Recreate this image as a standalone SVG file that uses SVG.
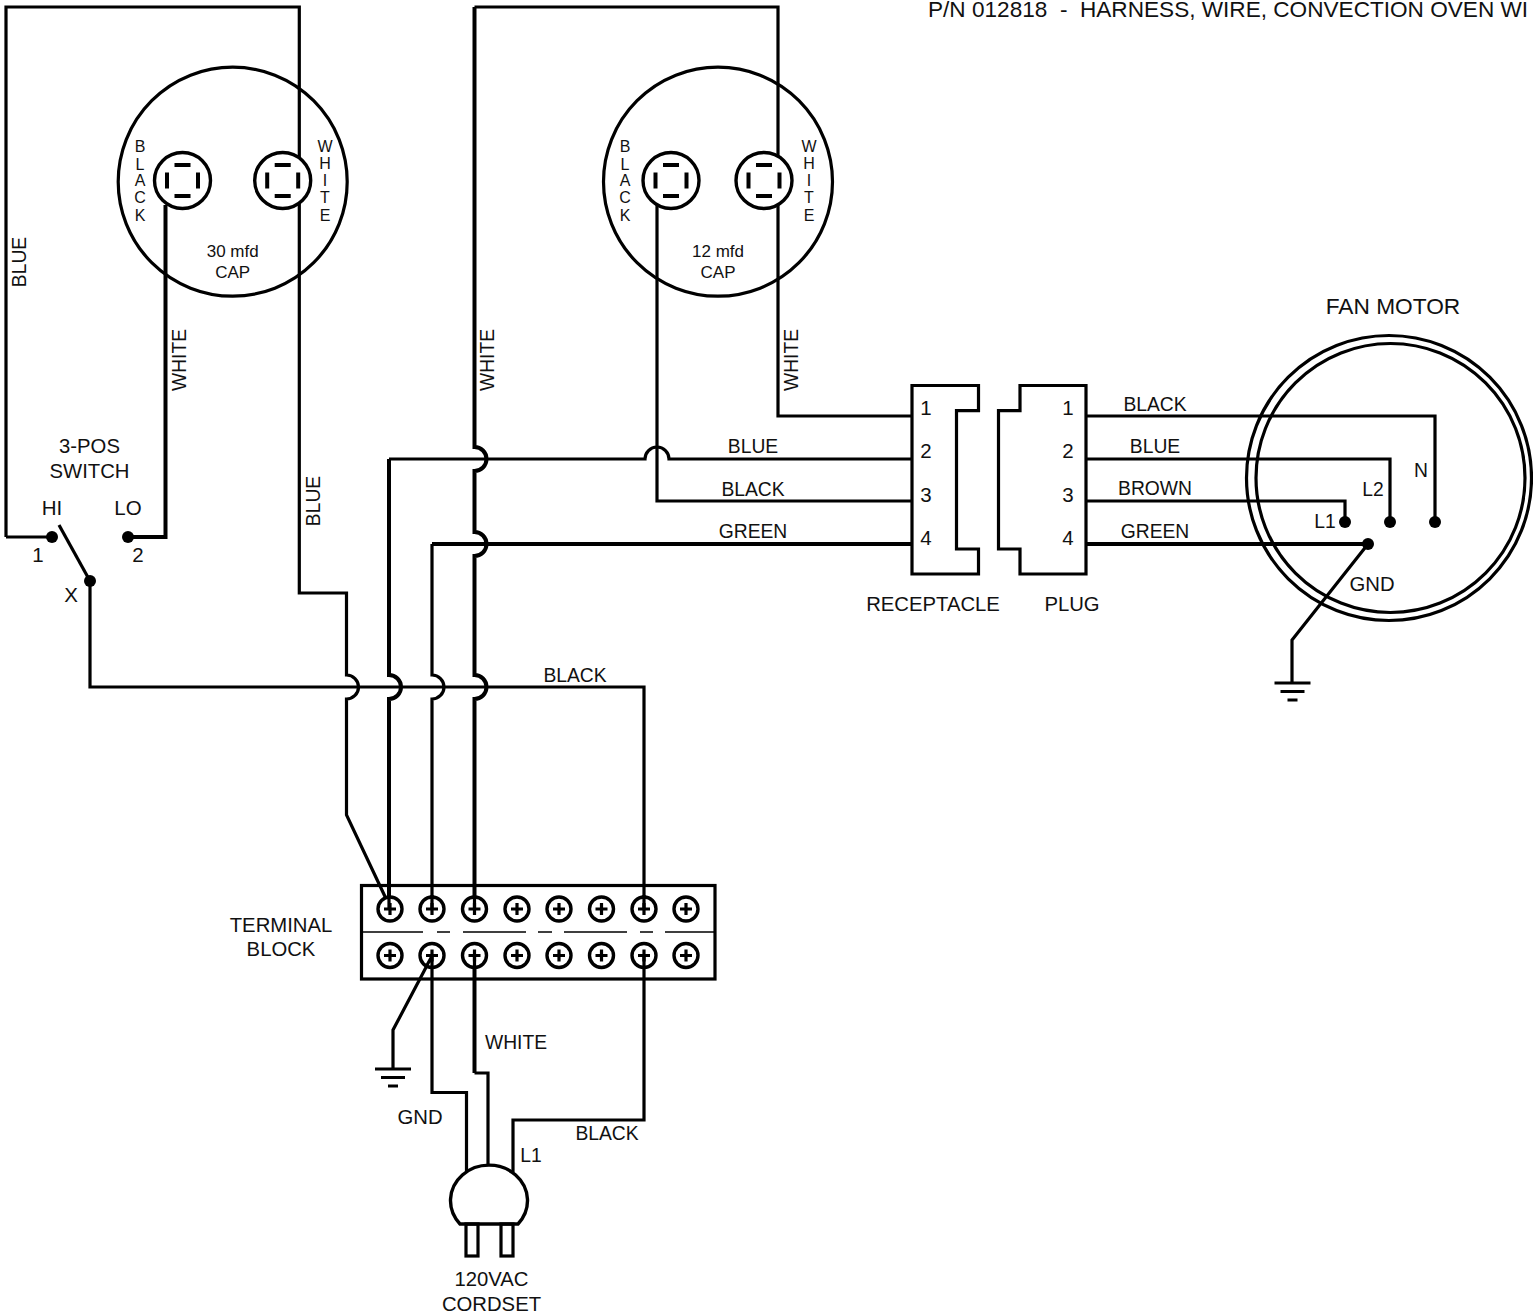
<svg xmlns="http://www.w3.org/2000/svg" width="1533" height="1315" viewBox="0 0 1533 1315">
<defs>
<style>
text{font-family:"Liberation Sans",Arial,sans-serif;fill:#111;font-size:19.300px;text-anchor:middle}
.s{font-size:17px}
.v{font-size:16px}
.n{font-size:20.500px}
.m{font-size:20.300px}
.w{fill:none;stroke:#000;stroke-width:3.200;stroke-linejoin:miter}
.t{stroke-width:4}
.b{fill:#fff;stroke:#000;stroke-width:3.400}
.thin{fill:none;stroke:#000;stroke-width:1.600}
.d{fill:#000}
</style>
<g id="gnd"><path class="w" d="M-18 0H18M-12 8.500H12M-5 17H5"/></g>
<g id="cap"><circle class="b" r="28"/><path class="w t" d="M-8 -15.500H8M-8 15.500H8M-15.500 -8V8M15.500 -8V8"/></g>
<g id="screw"><circle class="b" r="12"/><path class="w" d="M-6 0H6M0 -6V6"/></g>
</defs>
<rect width="1533" height="1315" fill="#fff"/>
<text x="928" y="17" style="text-anchor:start;font-size:22.600px" xml:space="preserve">P/N 012818  -  HARNESS, WIRE, CONVECTION OVEN WI</text>
<g id="cap30"><circle class="w" cx="232.700" cy="181.700" r="114.500"/></g>
<g id="cap12"><circle class="w" cx="718" cy="181.700" r="114.500"/></g>
<g id="connectors">
<path class="w" d="M6 537V7H299.300V593H346.500V675A12 12 0 0 1 346.500 699V815L389 905"/>
<path class="w t" d="M128 537H165.500V205"/>
<path class="w" d="M6 537H52"/>
<path class="w" d="M59 525L90 581"/>
<path class="w" d="M90 581V687H644V905"/>
<path class="w" d="M474.500 7H778V416H912"/>
<path class="w t" d="M474.500 7V447A12 12 0 0 1 474.500 471V532A12 12 0 0 1 474.500 556V675A12 12 0 0 1 474.500 699V905"/>
<path class="w t" d="M389 905V699A12 12 0 0 0 389 675V459"/>
<path class="w" d="M389 459H645A12 12 0 0 1 669 459H912"/>
<path class="w" d="M432 905V699A12 12 0 0 0 432 675V544"/>
<path class="w t" d="M432 544H912"/>
<path class="w" d="M657 205V501H912"/>
<path class="w" d="M1086 416H1435V522"/>
<path class="w" d="M1086 459H1390V522"/>
<path class="w" d="M1086 501H1345V522"/>
<path class="w t" d="M1086 544H1368"/>
<path class="w" d="M1368 544L1292 640V683"/>
<path class="w" d="M432 956V1092.500H466.500V1172"/>
<path class="w t" d="M474.500 956V1073"/>
<path class="w" d="M474.500 1073H488V1164"/>
<path class="w" d="M644 956V1120H513V1172"/>
<path class="w" d="M432 956L393 1030V1069"/>
</g>
<g id="cap30-terminals">
<use href="#cap" x="182.500" y="180.500"/><use href="#cap" x="282.700" y="180.500"/>
<text class="s" x="232.700" y="257">30 mfd</text><text class="s" x="232.700" y="278">CAP</text>
<text class="v" x="140" y="152">B</text><text class="v" x="140" y="170">L</text><text class="v" x="140" y="186">A</text><text class="v" x="140" y="203">C</text><text class="v" x="140" y="221">K</text>
<text class="v" x="325" y="152">W</text><text class="v" x="325" y="168.500">H</text><text class="v" x="325" y="185.500">I</text><text class="v" x="325" y="203">T</text><text class="v" x="325" y="221">E</text>
</g>
<g id="cap12-terminals">
<use href="#cap" x="671" y="180.500"/><use href="#cap" x="764" y="180.500"/>
<text class="s" x="718" y="257">12 mfd</text><text class="s" x="718" y="278">CAP</text>
<text class="v" x="625" y="152">B</text><text class="v" x="625" y="170">L</text><text class="v" x="625" y="186">A</text><text class="v" x="625" y="203">C</text><text class="v" x="625" y="221">K</text>
<text class="v" x="809" y="152">W</text><text class="v" x="809" y="168.500">H</text><text class="v" x="809" y="185.500">I</text><text class="v" x="809" y="203">T</text><text class="v" x="809" y="221">E</text>
</g>
<g id="switch">
<circle class="d" cx="52" cy="537" r="6"/><circle class="d" cx="128" cy="537" r="6"/><circle class="d" cx="90" cy="581" r="6"/>
<text class="m" x="89.500" y="453">3-POS</text><text class="m" x="89.500" y="478">SWITCH</text>
<text x="52" y="515" class="n">HI</text><text x="128" y="515" class="n">LO</text>
<text x="38" y="562" class="n">1</text><text x="138" y="562" class="n">2</text><text x="71" y="602" class="n">X</text>
</g>
<g id="receptacle">
<path class="w" d="M912 385.500H978.500V410.700H956.500V549H978.500V574H912Z"/>
<text class="n" x="926" y="415">1</text><text class="n" x="926" y="458">2</text><text class="n" x="926" y="502">3</text><text class="n" x="926" y="545">4</text>
<text class="m" x="933" y="611">RECEPTACLE</text>
</g>
<g id="plug">
<path class="w" d="M1020 385.500H1086V574H1020V549H998.500V410.700H1020Z"/>
<text class="n" x="1068" y="415">1</text><text class="n" x="1068" y="458">2</text><text class="n" x="1068" y="502">3</text><text class="n" x="1068" y="545">4</text>
<text class="m" x="1072" y="611">PLUG</text>
</g>
<g id="fan-motor">
<circle class="w" cx="1389" cy="478" r="142.500"/><circle class="w" cx="1390.500" cy="478" r="134.500"/>
<circle class="d" cx="1345" cy="522" r="6"/><circle class="d" cx="1390" cy="522" r="6"/><circle class="d" cx="1435" cy="522" r="6"/><circle class="d" cx="1368" cy="544" r="6"/>
<text x="1393" y="314" style="font-size:22.700px">FAN MOTOR</text>
<text x="1421" y="477">N</text><text x="1373" y="496">L2</text><text x="1325" y="528">L1</text><text class="m" x="1372" y="591">GND</text>
</g>
<use id="ground-motor" href="#gnd" x="1292.500" y="683"/>
<use id="ground-block" href="#gnd" x="393" y="1069"/>
<g id="terminal-block">
<rect class="w" x="361.500" y="885.500" width="353.500" height="93.500"/>
<path class="thin" d="M361 932H423M437 932H450M463 932H526M538 932H552M564 932H627M640 932H653M665 932H715"/>
<use href="#screw" x="390" y="909"/><use href="#screw" x="432" y="909"/><use href="#screw" x="474.500" y="909"/><use href="#screw" x="517" y="909"/><use href="#screw" x="559" y="909"/><use href="#screw" x="601.500" y="909"/><use href="#screw" x="644" y="909"/><use href="#screw" x="686" y="909"/>
<use href="#screw" x="390" y="955.500"/><use href="#screw" x="432" y="955.500"/><use href="#screw" x="474.500" y="955.500"/><use href="#screw" x="517" y="955.500"/><use href="#screw" x="559" y="955.500"/><use href="#screw" x="601.500" y="955.500"/><use href="#screw" x="644" y="955.500"/><use href="#screw" x="686" y="955.500"/>
<path class="w" d="M389 895V909M432 895V909M474.500 895V909M644 895V909M474.500 955.500V968M644 955.500V968M432 955.500V968M432 956L426 967"/>
<text class="m" x="281" y="932">TERMINAL</text><text class="m" x="281" y="956">BLOCK</text>
</g>
<g id="cordset">
<path class="b" d="M460 1224A38.500 35.500 0 1 1 518 1224Z"/>
<rect class="w" x="466" y="1224" width="12" height="32"/><rect class="w" x="501" y="1224" width="12" height="32"/>
<text class="m" x="491.500" y="1286">120VAC</text><text class="m" x="491.500" y="1311">CORDSET</text>
</g>
<g id="wire-labels">
<text x="753" y="453">BLUE</text><text x="753" y="496">BLACK</text><text x="753" y="538">GREEN</text>
<text x="1155" y="411">BLACK</text><text x="1155" y="453">BLUE</text><text x="1155" y="495">BROWN</text><text x="1155" y="538">GREEN</text>
<text x="575" y="682">BLACK</text><text x="516" y="1049">WHITE</text><text class="m" x="420" y="1124">GND</text><text x="607" y="1140">BLACK</text><text x="531" y="1162">L1</text>
<text transform="translate(26 262) rotate(-90)">BLUE</text>
<text transform="translate(186 360) rotate(-90)">WHITE</text>
<text transform="translate(320 501) rotate(-90)">BLUE</text>
<text transform="translate(494 360) rotate(-90)">WHITE</text>
<text transform="translate(798 360) rotate(-90)">WHITE</text>
</g>
</svg>
